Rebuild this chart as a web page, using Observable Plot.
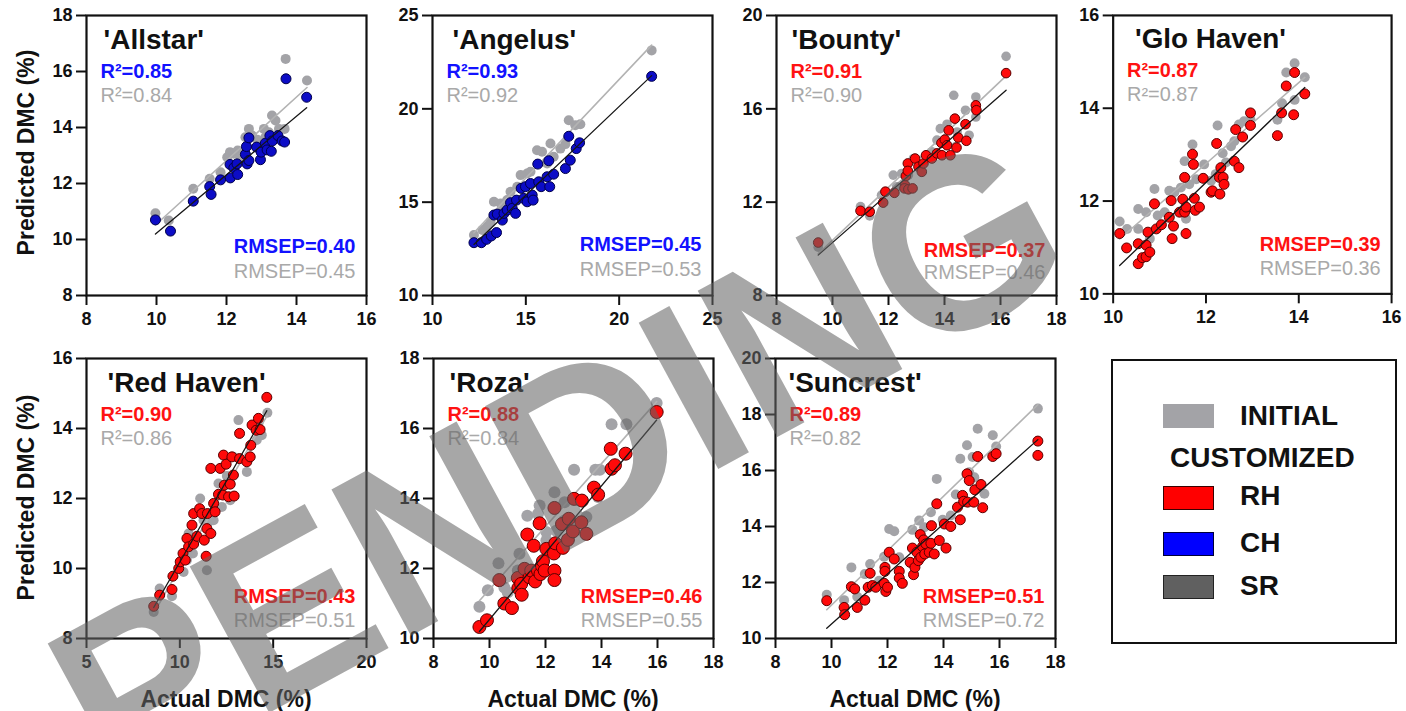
<!DOCTYPE html>
<html><head><meta charset="utf-8">
<script src="https://cdn.jsdelivr.net/npm/d3@7"></script>
<script src="https://cdn.jsdelivr.net/npm/@observablehq/plot@0.6"></script>
<style>
body{margin:0;background:#fff;}
#wrap{position:relative;width:1406px;height:711px;overflow:hidden;font-family:'Liberation Sans',Arial,sans-serif;color:#111;}
.panel{position:absolute;}
.ytitle{position:absolute;width:300px;height:23px;line-height:23px;font-size:23px;font-weight:bold;text-align:center;transform:rotate(-90deg);white-space:nowrap;}
.xtitle{position:absolute;width:280px;height:23px;line-height:23px;font-size:23px;font-weight:bold;text-align:center;white-space:nowrap;}
#legend{position:absolute;left:1111px;top:359px;width:282px;height:281px;border:2px solid #111;}
#legend .sw{position:absolute;left:50px;width:51px;height:24px;box-sizing:border-box;}
#legend .lt{position:absolute;font-size:28px;line-height:28px;font-weight:bold;white-space:nowrap;}
#wm{position:absolute;left:0;top:0;pointer-events:none;}
</style></head><body><div id="wrap"></div>
<script>
// ---------- data ----------
const cultivars = ["'Allstar'", "'Angelus'", "'Bounty'", "'Glo Haven'", "'Red Haven'", "'Roza'", "'Suncrest'"];
const customModel = ["CH", "CH", "RH", "RH", "RH", "RH", "RH"];
const r2Customized = ["0.85", "0.93", "0.91", "0.87", "0.90", "0.88", "0.89"];
const r2Initial = ["0.84", "0.92", "0.90", "0.87", "0.86", "0.84", "0.82"];
const rmsepCustomized = ["0.40", "0.45", "0.37", "0.39", "0.43", "0.46", "0.51"];
const rmsepInitial = ["0.45", "0.53", "0.46", "0.36", "0.51", "0.55", "0.72"];

const xDomains = [[8,16],[10,25],[8,18],[10,16],[5,20],[8,18],[8,18]];
const yDomains = [[8,18],[10,25],[8,20],[10,16],[8,16],[10,18],[10,20]];
const xTicks = [[8,10,12,14,16],[10,15,20,25],[8,10,12,14,16,18],[10,12,14,16],[5,10,15,20],[8,10,12,14,16,18],[8,10,12,14,16,18]];
const yTicks = [[8,10,12,14,16,18],[10,15,20,25],[8,12,16,20],[10,12,14,16],[8,10,12,14,16],[10,12,14,16,18],[10,12,14,16,18,20]];

// [actual, predicted]
const allstarInitial = [[9.97,10.94],[10.35,10.68],[11.05,11.81],[11.52,12.17],[11.83,12.40],[12.02,12.94],[12.10,13.12],[12.21,13.06],[12.32,13.18],[12.40,12.94],[12.54,13.65],[12.64,13.95],[12.73,13.71],[12.88,13.56],[13.07,13.95],[13.11,13.65],[13.21,13.83],[13.30,14.43],[13.40,14.25],[13.50,13.95],[13.66,13.95],[13.69,16.45],[14.30,15.68]];
const allstarCustomized = [[9.97,10.70],[10.40,10.30],[11.05,11.37],[11.52,11.89],[11.56,11.61],[11.83,12.13],[12.10,12.68],[12.11,12.20],[12.21,12.56],[12.30,12.70],[12.32,12.32],[12.54,13.04],[12.59,12.70],[12.57,13.32],[12.64,13.63],[12.64,12.82],[12.86,13.30],[12.97,12.85],[12.99,13.12],[13.11,13.44],[13.16,13.20],[13.24,13.71],[13.28,13.15],[13.31,13.52],[13.47,13.71],[13.59,13.52],[13.66,13.48],[13.70,15.74],[14.29,15.08]];

const angelusInitial = [[12.22,13.24],[12.67,13.51],[12.94,13.69],[13.11,13.95],[13.29,15.02],[13.65,14.93],[13.74,14.54],[14.00,15.11],[14.18,15.56],[14.54,15.83],[14.72,16.45],[15.07,16.54],[15.25,16.63],[15.60,17.78],[15.87,17.70],[16.14,17.07],[16.32,18.14],[16.49,17.43],[16.85,17.87],[17.12,18.11],[17.30,19.39],[17.65,19.12],[17.92,19.17],[21.74,23.13]];
const angelusCustomized = [[12.22,12.83],[12.62,12.83],[12.90,13.01],[13.15,13.19],[13.43,13.37],[13.29,14.31],[13.47,14.36],[13.74,14.04],[13.83,14.40],[14.00,14.58],[14.18,14.97],[14.27,14.67],[14.45,14.40],[14.50,15.11],[14.75,15.74],[14.89,15.20],[14.98,15.83],[15.07,15.02],[15.25,16.00],[15.34,15.38],[15.39,15.11],[15.64,17.04],[15.69,16.09],[15.82,15.83],[16.14,16.36],[16.23,17.22],[16.28,15.83],[16.49,16.50],[17.12,16.80],[17.30,18.53],[17.38,17.25],[17.70,17.87],[17.88,18.18],[21.74,21.74]];

const bountyInitial = [[9.49,10.07],[11.00,11.81],[11.33,11.41],[11.75,12.30],[12.17,13.16],[12.29,12.66],[12.47,13.23],[12.71,13.16],[12.89,13.87],[13.43,13.94],[13.55,14.16],[13.73,14.66],[13.85,15.15],[14.09,15.34],[14.33,16.58],[14.39,14.37],[14.45,15.01],[14.75,15.94],[14.88,14.87],[15.12,16.51],[15.12,15.65],[16.20,18.25]];
const bountyCustomized = [[9.49,10.27],[11.00,11.63],[11.33,11.59],[11.81,11.98],[11.89,12.45],[12.21,12.40],[12.59,12.73],[12.62,13.12],[12.57,12.59],[12.71,12.55],[12.86,12.59],[12.69,13.66],[12.69,13.34],[12.95,13.87],[13.07,13.52],[13.19,13.30],[13.25,13.66],[13.34,14.01],[13.55,13.87],[13.73,14.09],[13.91,14.01],[13.89,14.54],[14.01,14.68],[14.09,14.44],[14.21,14.01],[14.15,15.08],[14.37,15.58],[14.43,14.34],[14.49,14.77],[14.75,15.34],[14.78,14.63],[15.12,16.15],[15.14,15.94],[16.20,17.53]];

const gloHavenInitial = [[10.14,11.56],[10.30,11.40],[10.54,11.83],[10.54,11.40],[10.71,11.76],[10.79,11.19],[10.89,12.26],[10.96,11.69],[11.11,11.76],[11.21,12.22],[11.32,12.19],[11.46,12.29],[11.54,12.86],[11.64,12.36],[11.57,11.62],[11.71,13.22],[11.79,12.47],[11.96,12.79],[12.11,12.44],[12.21,12.58],[12.25,13.63],[12.36,13.03],[12.43,12.83],[12.54,13.18],[12.61,13.29],[12.71,13.65],[12.82,13.72],[12.96,13.75],[13.54,13.75],[13.64,14.11],[13.73,14.77],[13.91,14.97],[13.91,14.18],[14.13,14.67]];
const gloHavenCustomized = [[10.14,11.30],[10.29,10.99],[10.54,11.08],[10.54,10.65],[10.63,10.78],[10.71,11.05],[10.75,11.33],[10.71,10.80],[10.79,10.90],[10.89,11.94],[10.93,11.40],[11.04,11.49],[11.21,11.65],[11.25,12.01],[11.27,11.19],[11.30,11.46],[11.43,11.76],[11.50,12.04],[11.54,12.51],[11.54,11.76],[11.57,11.87],[11.57,11.30],[11.71,13.01],[11.73,12.79],[11.75,12.06],[11.77,11.80],[11.86,11.87],[11.94,12.49],[12.11,12.19],[12.14,12.22],[12.23,13.24],[12.29,12.51],[12.30,12.15],[12.32,12.72],[12.37,12.51],[12.39,12.36],[12.61,12.86],[12.64,13.54],[12.71,12.72],[12.79,13.38],[12.96,13.90],[12.96,13.63],[13.54,13.41],[13.63,13.90],[13.73,14.48],[13.89,13.86],[13.91,14.77],[14.13,14.31]];

const redHavenInitial = [[8.60,8.76],[8.92,9.43],[9.58,9.21],[10.20,9.90],[10.38,10.24],[10.47,11.00],[10.70,10.43],[11.09,12.00],[11.27,11.38],[11.45,9.95],[11.54,11.33],[11.81,11.38],[12.07,12.43],[12.25,11.76],[12.52,12.64],[12.70,11.95],[12.87,13.19],[13.14,14.24],[13.59,12.76],[14.12,13.67],[14.21,14.14],[14.39,13.81],[14.69,14.45]];
const redHavenCustomized = [[8.60,8.92],[8.92,9.24],[9.58,9.40],[9.63,9.78],[9.94,10.00],[10.02,10.19],[10.17,10.43],[10.29,10.24],[10.38,10.86],[10.47,10.62],[10.65,11.24],[10.74,10.70],[10.74,11.57],[10.92,10.92],[11.06,11.71],[11.18,11.57],[11.31,10.81],[11.41,10.35],[11.45,11.14],[11.48,11.57],[11.66,11.00],[11.66,12.86],[11.81,11.86],[11.89,11.62],[12.07,12.12],[12.16,12.86],[12.30,12.10],[12.34,13.24],[12.38,12.38],[12.48,12.98],[12.61,12.05],[12.70,12.41],[12.79,13.19],[12.87,12.67],[12.91,12.07],[13.20,13.14],[13.20,13.86],[13.59,13.05],[13.77,13.19],[13.80,13.52],[13.87,14.10],[14.09,13.95],[14.21,14.29],[14.30,13.97],[14.66,14.89]];

const rozaInitial = [[9.64,10.91],[9.94,11.38],[10.32,12.15],[10.53,11.46],[10.65,11.32],[11.01,11.94],[11.07,12.42],[11.35,13.51],[11.73,13.56],[11.79,13.80],[12.03,13.04],[12.03,12.80],[12.32,14.18],[12.38,13.08],[12.68,13.89],[12.68,13.37],[13.02,14.82],[13.16,13.96],[13.46,13.47],[13.78,14.82],[13.88,14.04],[13.94,14.82],[14.36,16.12],[14.89,16.12],[15.97,16.73]];
const rozaCustomized = [[9.64,10.33],[9.91,10.52],[10.35,11.67],[10.53,11.00],[10.80,10.87],[11.01,11.73],[11.03,11.44],[11.13,11.56],[11.15,11.25],[11.25,11.99],[11.35,12.97],[11.43,11.75],[11.49,11.94],[11.58,12.65],[11.63,11.63],[11.73,11.94],[11.79,13.29],[11.82,11.84],[11.87,12.08],[11.91,12.21],[11.97,11.94],[12.03,12.56],[12.30,12.43],[12.32,11.94],[12.32,11.67],[12.32,13.73],[12.35,12.72],[12.59,13.27],[12.62,12.59],[12.80,12.82],[12.83,13.42],[12.98,13.06],[13.02,13.99],[13.28,13.32],[13.30,13.94],[13.46,12.99],[13.73,14.31],[13.88,14.11],[14.33,15.42],[14.36,14.85],[14.48,14.95],[14.86,15.28],[15.97,16.47]];

const suncrestInitial = [[9.83,11.56],[10.45,11.37],[10.71,12.54],[10.92,11.49],[11.19,12.30],[11.38,12.66],[11.70,12.06],[11.88,12.92],[12.06,13.91],[12.24,13.83],[12.42,12.90],[12.89,13.88],[13.13,14.21],[13.31,13.97],[13.55,14.51],[13.76,15.70],[13.97,14.24],[14.26,14.39],[14.44,15.14],[14.60,16.42],[14.84,16.90],[14.92,15.94],[15.04,16.48],[15.10,15.76],[15.22,17.49],[15.46,15.17],[15.76,17.26],[15.88,16.86],[17.37,18.21]];
const suncrestCustomized = [[9.83,11.35],[10.45,11.11],[10.47,10.85],[10.71,11.85],[10.83,11.77],[10.92,11.11],[11.19,11.37],[11.31,11.83],[11.38,12.33],[11.46,11.89],[11.58,11.83],[11.88,11.97],[11.91,12.54],[11.91,12.40],[11.94,11.68],[12.00,11.83],[12.06,13.08],[12.24,12.84],[12.42,12.40],[12.42,12.16],[12.53,11.97],[12.81,12.72],[12.89,13.23],[12.93,12.28],[12.98,12.54],[13.05,13.08],[13.10,12.78],[13.17,13.71],[13.19,12.90],[13.25,13.28],[13.29,13.52],[13.33,13.02],[13.37,13.38],[13.49,13.08],[13.55,13.40],[13.57,14.03],[13.67,13.02],[13.76,14.81],[13.85,13.50],[14.03,14.09],[14.09,13.23],[14.26,14.00],[14.50,14.69],[14.60,14.24],[14.68,15.11],[14.72,14.90],[14.84,15.88],[14.86,14.87],[14.92,15.64],[15.08,14.87],[15.12,15.31],[15.22,16.50],[15.34,15.50],[15.40,14.67],[15.76,16.50],[15.88,16.60],[17.37,17.05],[17.37,16.54]];

const initialSets = [allstarInitial, angelusInitial, bountyInitial, gloHavenInitial, redHavenInitial, rozaInitial, suncrestInitial];
const customizedSets = [allstarCustomized, angelusCustomized, bountyCustomized, gloHavenCustomized, redHavenCustomized, rozaCustomized, suncrestCustomized];

const legendLabels = ["INITIAL", "CUSTOMIZED", "RH", "CH", "SR"];

// ---------- layout (not data) ----------
const frameLeft = [86, 432, 776, 1113, 86, 433, 775];
const frameTop = [15, 15, 15, 15, 358, 358, 358];
const titleDx = [17, 20, 15, 22, 21, 16, 13];
const rmsDy = [[-43,-18],[-45,-20],[-39,-17],[-43,-19],[-36,-12],[-36,-12],[-36,-12]];
const dotR = [5, 5, 4.8, 5, 5, 6.5, 5];
const dotRInit = [5, 5, 4.8, 5, 5, 6, 5];
const W = 280, H = 280, ML = 60, MR = 15, MT = 10, MB = 45;

const palette = {
  CH: {fill: "#0c0cc6", stroke: "#00004a", text: "#1212ff"},
  RH: {fill: "#ff0a0a", stroke: "#5a0000", text: "#ff1212"},
  SR: {fill: "#606060", stroke: "#222", text: "#606060"}
};
const grayDot = "#a3a3a7", grayText = "#a9a9a9";
const FONT = "'Liberation Sans', Arial, sans-serif";

const wrap = document.getElementById("wrap");

for (let i = 0; i < cultivars.length; i++) {
  const pal = palette[customModel[i]];
  const init = initialSets[i].map(([x, y]) => ({x, y}));
  const cust = customizedSets[i].map(([x, y]) => ({x, y}));
  const svg = Plot.plot({
    width: ML + W + MR, height: MT + H + MB,
    marginLeft: ML, marginRight: MR, marginTop: MT, marginBottom: MB,
    style: `font-family:${FONT};font-size:18px;font-weight:bold;background:transparent;overflow:visible;color:#111;`,
    x: {domain: xDomains[i]},
    y: {domain: yDomains[i]},
    marks: [
      Plot.dot(init, {x: "x", y: "y", r: dotRInit[i], fill: grayDot, stroke: "none"}),
      Plot.linearRegressionY(init, {x: "x", y: "y", ci: 0, stroke: "#b3b3b3", strokeWidth: 1.6}),
      Plot.dot(cust, {x: "x", y: "y", r: dotR[i], fill: pal.fill, stroke: pal.stroke, strokeWidth: 1}),
      Plot.linearRegressionY(cust, {x: "x", y: "y", ci: 0, stroke: "#161616", strokeWidth: 1.3}),
      Plot.frame({stroke: "#111", strokeWidth: 2.2}),
      Plot.axisX({ticks: xTicks[i], tickSize: 10, tickPadding: 7, strokeWidth: 2, label: null, tickFormat: d => String(d), fontSize: 18, fontWeight: "bold"}),
      Plot.axisY({ticks: yTicks[i], tickSize: 10, tickPadding: 4, strokeWidth: 2, label: null, tickFormat: d => String(d), fontSize: 18, fontWeight: "bold"}),
      Plot.text([cultivars[i]], {text: d => d, frameAnchor: "top-left", lineAnchor: "bottom", dx: titleDx[i], dy: 33, fontSize: 28, fontWeight: "bold", fill: "#111"}),
      Plot.text([`R²=${r2Customized[i]}`], {text: d => d, frameAnchor: "top-left", lineAnchor: "bottom", dx: 14, dy: 62, fontSize: 20, fontWeight: "bold", fill: pal.text}),
      Plot.text([`R²=${r2Initial[i]}`], {text: d => d, frameAnchor: "top-left", lineAnchor: "bottom", dx: 14, dy: 86, fontSize: 20, fontWeight: "normal", fill: grayText}),
      Plot.text([`RMSEP=${rmsepCustomized[i]}`], {text: d => d, frameAnchor: "bottom-right", lineAnchor: "bottom", dx: -11, dy: rmsDy[i][0], fontSize: 20, fontWeight: "bold", fill: pal.text}),
      Plot.text([`RMSEP=${rmsepInitial[i]}`], {text: d => d, frameAnchor: "bottom-right", lineAnchor: "bottom", dx: -11, dy: rmsDy[i][1], fontSize: 20, fontWeight: "normal", fill: grayText})
    ]
  });
  const holder = document.createElement("div");
  holder.className = "panel";
  holder.style.left = (frameLeft[i] - ML) + "px";
  holder.style.top = (frameTop[i] - MT) + "px";
  holder.appendChild(svg);
  wrap.appendChild(holder);
}

// axis titles
function addDiv(cls, text, left, top) {
  const d = document.createElement("div");
  d.className = cls; d.textContent = text;
  d.style.left = left + "px"; d.style.top = top + "px";
  wrap.appendChild(d); return d;
}
addDiv("ytitle", "Predicted DMC (%)", 26 - 150, 152 - 11);
addDiv("ytitle", "Predicted DMC (%)", 26 - 150, 497 - 11);
[4, 5, 6].forEach(i => addDiv("xtitle", "Actual DMC (%)", frameLeft[i], 688));

// legend
const leg = document.createElement("div");
leg.id = "legend";
const swatches = [
  {label: legendLabels[0], fill: grayDot, border: "none", top: 43, textTop: 41},
  {label: legendLabels[2], fill: "#ff0000", border: "1.5px solid #3a0000", top: 125, textTop: 121},
  {label: legendLabels[3], fill: "#0000ff", border: "1.5px solid #00003a", top: 171, textTop: 168},
  {label: legendLabels[4], fill: "#606060", border: "1.5px solid #222", top: 214, textTop: 211}
];
swatches.forEach(s => {
  const sw = document.createElement("div");
  sw.className = "sw"; sw.style.top = s.top + "px"; sw.style.background = s.fill; sw.style.border = s.border;
  leg.appendChild(sw);
  const t = document.createElement("div");
  t.className = "lt"; t.textContent = s.label; t.style.left = "127px"; t.style.top = s.textTop + "px";
  leg.appendChild(t);
});
const cu = document.createElement("div");
cu.className = "lt"; cu.textContent = legendLabels[1]; cu.style.left = "57px"; cu.style.top = "83px";
leg.appendChild(cu);
wrap.appendChild(leg);

// watermark
const NS = "http://www.w3.org/2000/svg";
const wm = document.createElementNS(NS, "svg");
wm.setAttribute("id", "wm"); wm.setAttribute("width", 1406); wm.setAttribute("height", 711);
const wt = document.createElementNS(NS, "text");
const wx = 556, wy = 458;
wt.setAttribute("x", wx); wt.setAttribute("y", wy);
wt.setAttribute("transform", `rotate(-28.5 ${wx} ${wy})`);
wt.setAttribute("text-anchor", "middle"); wt.setAttribute("dy", "0.36em");
wt.setAttribute("font-family", FONT); wt.setAttribute("font-size", 242); wt.setAttribute("font-weight", "bold");
wt.setAttribute("fill", "rgba(100,100,100,0.57)");
wt.textContent = "PENDING";
wm.appendChild(wt);
wrap.appendChild(wm);
</script>
</body></html>
